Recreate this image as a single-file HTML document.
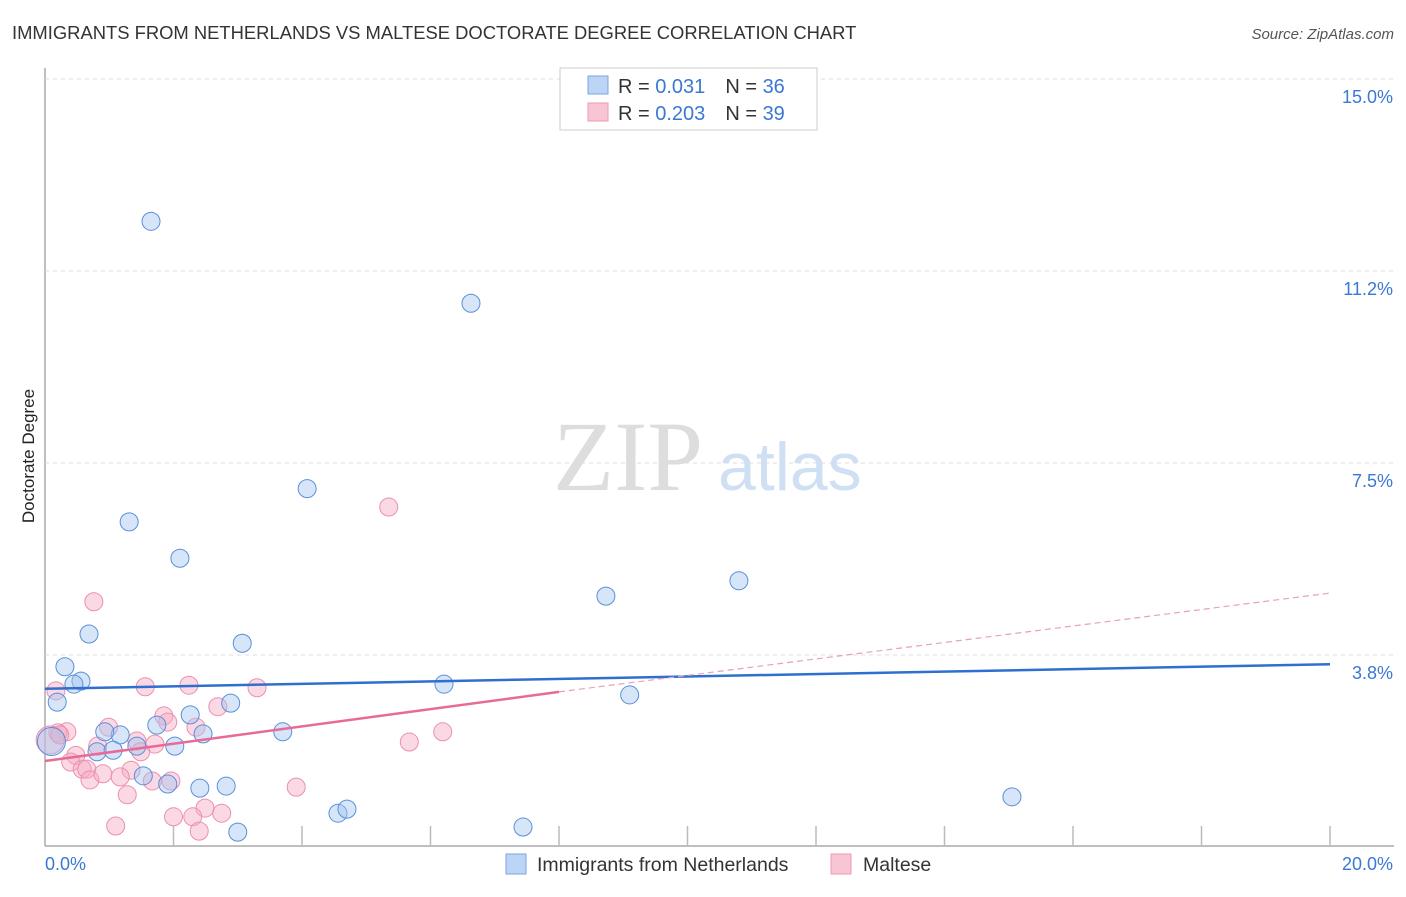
<!DOCTYPE html>
<html><head><meta charset="utf-8"><style>
body{margin:0;background:#fff;font-family:"Liberation Sans",sans-serif}
</style></head><body>
<svg id="c" width="1406" height="892" font-family="Liberation Sans, sans-serif">
<text x="12" y="39" font-size="18.4" fill="#333">IMMIGRANTS FROM NETHERLANDS VS MALTESE DOCTORATE DEGREE CORRELATION CHART</text>
<text x="1394" y="39" font-size="15" fill="#555" font-style="italic" text-anchor="end">Source: ZipAtlas.com</text>
<text x="34" y="456" font-size="17" fill="#222" transform="rotate(-90 34 456)" text-anchor="middle">Doctorate Degree</text>
<text x="553" y="490" font-size="100" fill="#ddd" style="font-family:'Liberation Serif',serif">ZIP</text>
<text x="718" y="490" font-size="68" fill="#cfe0f5">atlas</text>
<g id="grid"></g><g id="pts"></g><g id="trend"></g>
<g>
<rect x="560" y="68" width="257" height="62" fill="#fff" stroke="#ccc"/>
<rect x="588" y="76" width="20" height="18" fill="#bcd4f5" stroke="#7aa6e0"/>
<rect x="588" y="103" width="20" height="18" fill="#f9c5d4" stroke="#ec9ab2"/>
<text x="618" y="93" font-size="20" fill="#333">R = <tspan fill="#3a78d4">0.031</tspan><tspan dx="20">N = </tspan><tspan fill="#3a78d4">36</tspan></text>
<text x="618" y="120" font-size="20" fill="#333">R = <tspan fill="#3a78d4">0.203</tspan><tspan dx="20">N = </tspan><tspan fill="#3a78d4">39</tspan></text>
</g>
<g>
<rect x="506" y="854" width="20" height="20" fill="#bcd4f5" stroke="#7aa6e0"/>
<text x="537" y="871" font-size="19.5" fill="#333">Immigrants from Netherlands</text>
<rect x="831" y="854" width="20" height="20" fill="#f9c5d4" stroke="#ec9ab2"/>
<text x="863" y="871" font-size="19.5" fill="#333">Maltese</text>
</g>
</svg>
<script>
const yTicks=[3.75,7.5,11.25,15];
const yTickLabels=["3.8%","7.5%","11.2%","15.0%"];
const xTicks=[0,2,4,6,8,10,12,14,16,18,20];
const blueX=[1.65,6.63,4.08,1.31,2.1,8.73,10.8,3.07,0.685,0.31,0.56,0.45,0.19,2.89,6.21,9.1,2.26,1.74,1.17,0.93,2.46,3.7,1.43,0.81,1.06,2.02,0.1,1.53,1.91,2.41,2.82,4.56,4.7,7.44,3.0,15.05];
const blueY=[12.22,10.62,7.0,6.35,5.64,4.9,5.2,3.98,4.16,3.52,3.24,3.18,2.83,2.81,3.18,2.97,2.58,2.38,2.19,2.25,2.21,2.25,1.97,1.86,1.89,1.97,2.06,1.39,1.23,1.15,1.19,0.66,0.74,0.39,0.29,0.98];
const pinkX=[0.76,5.35,0.17,1.56,2.24,3.3,2.69,0.99,0.34,0.2,1.85,1.91,2.35,1.43,0.82,1.71,1.49,5.67,6.19,0.48,0.4,0.58,0.65,1.34,1.17,0.7,0.9,1.67,1.96,1.28,3.91,2.49,2.75,2.3,1.1,2.0,2.4,0.08,0.23];
const pinkY=[4.79,6.64,3.05,3.13,3.16,3.11,2.74,2.34,2.25,2.23,2.56,2.44,2.34,2.07,1.97,2.01,1.86,2.05,2.25,1.79,1.66,1.52,1.52,1.5,1.37,1.31,1.43,1.29,1.29,1.02,1.17,0.76,0.66,0.59,0.41,0.59,0.31,2.09,2.19];
const blueTrend=[[0,3.09],[20,3.57]];
const pinkTrend=[[0,1.68],[8,3.03],[20,4.96]];
const X=v=>45+v*64.25, Y=v=>847-v*51.2;
const NS="http://www.w3.org/2000/svg";
function mk(t,a,p){const e=document.createElementNS(NS,t);for(const k in a)e.setAttribute(k,a[k]);p.appendChild(e);return e;}
const g=document.getElementById('grid');
let ax=mk('line',{x1:45,y1:68,x2:45,y2:846,stroke:'#aaa','stroke-width':1.5},g);


let bx=mk('line',{x1:45,y1:846,x2:1394,y2:846,stroke:'#aaa','stroke-width':1.5},g);


yTicks.forEach((v,i)=>{const l=mk('line',{x1:45,x2:1394,y1:Y(v),y2:Y(v),stroke:'#ddd','stroke-dasharray':'4 4'},g);


const t=mk('text',{x:1393,y:Y(v)+24,'font-size':18,fill:'#3a78d4','text-anchor':'end'},g);t.textContent=yTickLabels[i];

});
xTicks.forEach(v=>{if(v>0){const l=mk('line',{x1:X(v),x2:X(v),y1:826,y2:846,stroke:'#bbb','stroke-width':1.5},g);

}});
let t0=mk('text',{x:45,y:870,'font-size':18,fill:'#3a78d4'},g);t0.textContent='0.0%';


let t1=mk('text',{x:1393,y:870,'font-size':18,fill:'#3a78d4','text-anchor':'end'},g);t1.textContent='20.0%';


const P=document.getElementById('pts');
pinkX.forEach((x,i)=>{const r=i==37?14:9;const c=mk('circle',{cx:X(x),cy:Y(pinkY[i]),r:r,fill:'rgba(246,170,195,0.45)',stroke:'#ec8fae','stroke-width':1},P);

});
blueX.forEach((x,i)=>{const r=i==26?14:9;const c=mk('circle',{cx:X(x),cy:Y(blueY[i]),r:r,fill:'rgba(165,198,240,0.45)',stroke:'#5a90d8','stroke-width':1},P);

});
const T=document.getElementById('trend');
let b=mk('line',{x1:X(blueTrend[0][0]),y1:Y(blueTrend[0][1]),x2:X(blueTrend[1][0]),y2:Y(blueTrend[1][1]),stroke:'#2f6fd0','stroke-width':2.5},T);


let p1=mk('line',{x1:X(pinkTrend[0][0]),y1:Y(pinkTrend[0][1]),x2:X(pinkTrend[1][0]),y2:Y(pinkTrend[1][1]),stroke:'#e86a96','stroke-width':2.5},T);


let p2=mk('line',{x1:X(pinkTrend[1][0]),y1:Y(pinkTrend[1][1]),x2:X(pinkTrend[2][0]),y2:Y(pinkTrend[2][1]),stroke:'#e8a0b8','stroke-width':1.2,'stroke-dasharray':'6 4'},T);


</script>
</body></html>
